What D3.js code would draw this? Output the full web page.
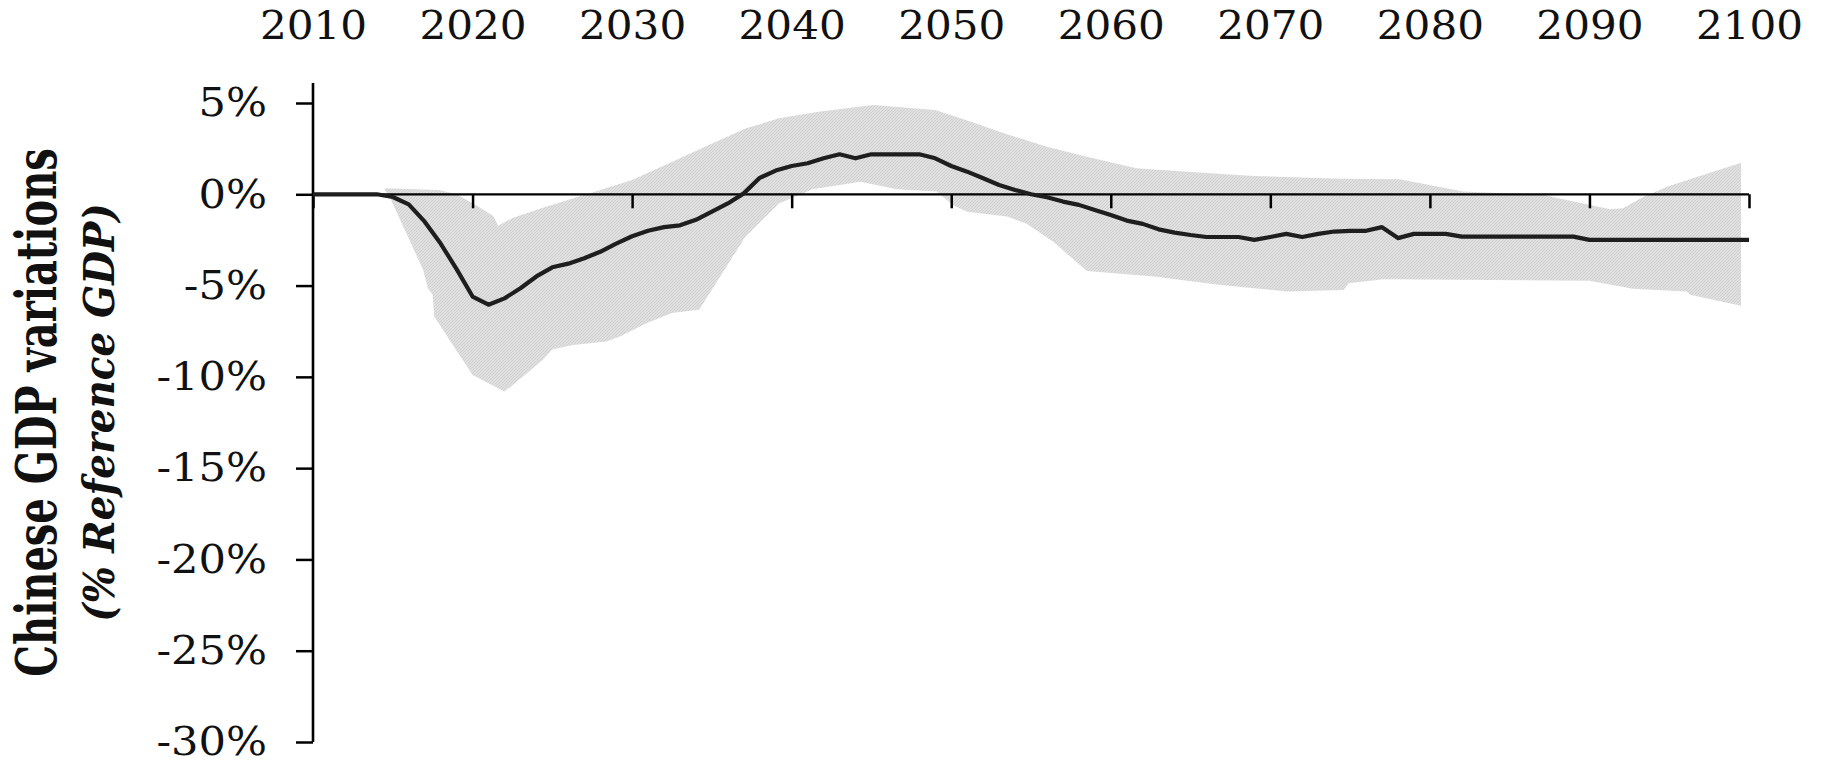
<!DOCTYPE html>
<html>
<head>
<meta charset="utf-8">
<script src="https://cdn.jsdelivr.net/npm/d3@7"></script>
<style>
  html, body { margin: 0; padding: 0; background: #fff; }
  svg { display: block; }
  .lbl { font-family: "DejaVu Serif", "Liberation Serif", serif; fill: #111; }
</style>
</head>
<body>
<svg id="chart" width="1821" height="765"></svg>
<script>
// Years on the horizontal axis (annual central estimate)
const years = d3.range(2010, 2101);

// Central estimate of Chinese GDP variation, % of reference GDP
const gdpCentral = [
  0, 0, 0, 0, 0,                                  // 2010-2014
  -0.15, -0.55, -1.5, -2.7, -4.1,                 // 2015-2019
  -5.6, -6.05, -5.7, -5.15, -4.5,                 // 2020-2024
  -4.0, -3.8, -3.5, -3.15, -2.7,                  // 2025-2029
  -2.3, -2.0, -1.8, -1.7, -1.4,                   // 2030-2034
  -0.95, -0.5, 0.05, 0.9, 1.3,                    // 2035-2039
  1.55, 1.7, 1.97, 2.19, 1.97,                    // 2040-2044
  2.19, 2.19, 2.19, 2.19, 1.97,                   // 2045-2049
  1.55, 1.24, 0.88, 0.51, 0.24,                   // 2050-2054
  0.0, -0.16, -0.4, -0.58, -0.86,                 // 2055-2059
  -1.13, -1.44, -1.62, -1.92, -2.1,               // 2060-2064
  -2.23, -2.34, -2.34, -2.34, -2.5,               // 2065-2069
  -2.34, -2.17, -2.34, -2.17, -2.04,              // 2070-2074
  -2.0, -2.0, -1.8, -2.4, -2.17,                  // 2075-2079
  -2.17, -2.17, -2.32, -2.32, -2.32,              // 2080-2084
  -2.32, -2.32, -2.32, -2.32, -2.32,              // 2085-2089
  -2.5, -2.5, -2.5, -2.5, -2.5,                   // 2090-2094
  -2.5, -2.5, -2.5, -2.5, -2.5, -2.5              // 2095-2100
];

// Upper bound of the uncertainty range: [year, %]
const bandUpper = [
  [2014.5, 0.33], [2017.9, 0.24], [2019.0, 0.0], [2020.2, -0.58], [2021.3, -1.19],
  [2021.6, -1.73], [2022.5, -1.3], [2024.6, -0.68], [2027.7, 0.15], [2030.0, 0.78],
  [2033.0, 1.97], [2035.05, 2.8], [2037.1, 3.6], [2039.2, 4.16], [2041.8, 4.53],
  [2045.1, 4.89], [2049.0, 4.62], [2051.2, 3.98], [2053.3, 3.34], [2056.0, 2.61],
  [2058.5, 2.06], [2061.6, 1.42], [2064.8, 1.24], [2069.0, 1.0], [2074.4, 0.85],
  [2078.1, 0.82], [2082.1, 0.15], [2087.1, -0.04], [2091.3, -0.82], [2092.1, -0.77],
  [2093.4, -0.13], [2094.9, 0.42], [2099.5, 1.73]
];

// Lower bound of the uncertainty range: [year, %]
const bandLower = [
  [2014.5, 0.25], [2014.8, -0.13], [2016.9, -4.14], [2017.2, -5.15], [2017.5, -5.5],
  [2017.6, -6.7], [2020.0, -9.9], [2022.0, -10.8], [2022.9, -10.17], [2024.4, -9.07],
  [2025.0, -8.5], [2026.3, -8.25], [2028.4, -8.07], [2029.2, -7.8], [2030.9, -7.06],
  [2032.5, -6.5], [2034.2, -6.33], [2037.1, -2.32], [2039.2, -0.5], [2041.3, 0.27],
  [2044.3, 0.69], [2046.6, 0.27], [2049.1, 0.15], [2050.1, -0.58], [2051.0, -0.95],
  [2053.5, -1.22], [2054.7, -1.6], [2056.4, -2.6], [2057.7, -3.6], [2058.5, -4.2],
  [2062.7, -4.5], [2066.9, -4.97], [2071.1, -5.33], [2074.6, -5.24], [2074.9, -4.87],
  [2077.1, -4.65], [2090.0, -4.73], [2092.7, -5.18], [2096.1, -5.33], [2096.3, -5.5],
  [2099.5, -6.1]
];

// Axis ticks and labels
const xTicks = d3.range(2010, 2101, 10);
const yTicks = [5, 0, -5, -10, -15, -20, -25, -30];
const yTitle = "Chinese GDP variations";
const ySubtitle = "(% Reference GDP)";

const svg = d3.select("#chart");

const x = d3.scaleLinear().domain([2010, 2100]).range([313, 1749]);
const y = d3.scaleLinear().domain([-30, 5]).range([742, 103]);

// Fine hatch texture for the uncertainty band
const defs = svg.append("defs");
const pat = defs.append("pattern")
  .attr("id", "hatch").attr("patternUnits", "userSpaceOnUse")
  .attr("width", 3).attr("height", 3);
pat.append("rect").attr("width", 3).attr("height", 3).attr("fill", "#e0e0e0");
pat.append("path").attr("d", "M0,3 L3,0").attr("stroke", "#d0d0d0").attr("stroke-width", 1);

// Uncertainty band: upper edge forward, lower edge back
const bandPts = bandUpper.concat(bandLower.slice().reverse());
svg.append("path")
  .attr("d", d3.line().x(d => x(d[0])).y(d => y(d[1]))(bandPts) + "Z")
  .attr("fill", "url(#hatch)");

// Zero line with downward ticks
const xAxis = svg.append("g")
  .attr("transform", `translate(0,${y(0)})`)
  .call(d3.axisBottom(x).tickValues(xTicks).tickSize(14).tickFormat(""));
xAxis.select(".domain").attr("d", `M${x(2010)},0H${x(2100)}`).attr("stroke", "#000").attr("stroke-width", 2.2);
xAxis.selectAll(".tick line").attr("stroke", "#000").attr("stroke-width", 2.5);

// Year labels along the top
const topAxis = svg.append("g")
  .attr("transform", "translate(0,42)")
  .call(d3.axisTop(x).tickValues(xTicks).tickSize(0).tickPadding(3).tickFormat(d3.format("d")));
topAxis.select(".domain").remove();
topAxis.selectAll("text").attr("class", "lbl").attr("font-size", 39)
  .attr("fill", "#111").attr("transform", "scale(1.08,1)");

// Vertical axis
const yAxis = svg.append("g")
  .attr("transform", `translate(${x(2010)},0)`)
  .call(d3.axisLeft(y).tickValues(yTicks).tickSize(17).tickPadding(29).tickFormat(d => d + "%"));
yAxis.select(".domain").remove();
yAxis.selectAll(".tick line").attr("stroke", "#000").attr("stroke-width", 2.5);
const ySX = 1.08;
yAxis.selectAll("text").attr("class", "lbl").attr("font-size", 40).attr("fill", "#111")
  .attr("dy", "0.32em").attr("x", -46 / ySX).attr("transform", `scale(${ySX},1)`);
svg.append("line")
  .attr("x1", x(2010)).attr("x2", x(2010))
  .attr("y1", y(5) - 20).attr("y2", y(-30))
  .attr("stroke", "#000").attr("stroke-width", 2.6);

// Central estimate
svg.append("path")
  .datum(years.map((yr, i) => [yr, gdpCentral[i]]))
  .attr("fill", "none")
  .attr("stroke", "#1e1e1e")
  .attr("stroke-width", 4.2)
  .attr("stroke-linejoin", "round")
  .attr("d", d3.line().x(d => x(d[0])).y(d => y(d[1])));

// Axis title, two lines, rotated
const cy = (y(5) - 20 + y(-30)) / 2;
svg.append("text")
  .attr("class", "lbl")
  .attr("transform", `translate(56,${cy}) scale(1.38,1) rotate(-90)`)
  .attr("text-anchor", "middle")
  .attr("font-size", 40).attr("font-weight", "bold")
  .text(yTitle);
svg.append("text")
  .attr("class", "lbl")
  .attr("transform", `translate(114,${cy}) scale(1.12,1) rotate(-90)`)
  .attr("text-anchor", "middle")
  .attr("font-size", 39).attr("font-weight", "bold").attr("font-style", "italic")
  .text(ySubtitle);
</script>
</body>
</html>
